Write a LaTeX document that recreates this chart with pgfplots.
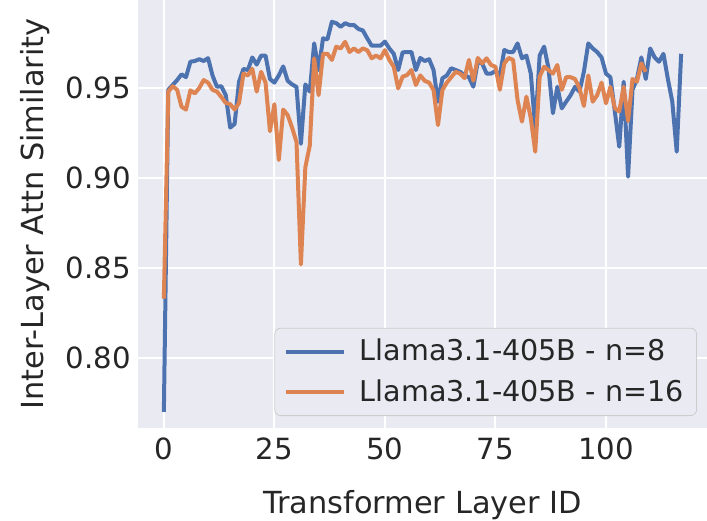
\documentclass[border=0pt]{standalone}
\usepackage{fontspec}
\setmainfont{DejaVu Sans}
\usepackage{pgfplots}
\pgfplotsset{compat=1.18}
\usepackage{pgfplotstable}
\definecolor{sbblue}{HTML}{4C72B0}
\definecolor{sborange}{HTML}{DD8452}
\definecolor{sbbg}{HTML}{EAEAF2}
\definecolor{sbedge}{HTML}{CCCCCC}
\definecolor{sbtext}{HTML}{262626}

\pgfplotstableread{
x y
0 0.770
1 0.949
2 0.9517
3 0.9544
4 0.9576
5 0.956
6 0.9646
7 0.965
8 0.966
9 0.965
10 0.9666
11 0.957
12 0.9507
13 0.951
14 0.946
15 0.928
16 0.930
17 0.9535
18 0.9606
19 0.960
20 0.967
21 0.963
22 0.968
23 0.968
24 0.955
25 0.953
26 0.957
27 0.962
28 0.954
29 0.952
30 0.9506
31 0.919
32 0.952
33 0.948
34 0.9748
35 0.960
36 0.9776
37 0.977
38 0.9868
39 0.986
40 0.984
41 0.986
42 0.985
43 0.985
44 0.9828
45 0.982
46 0.9776
47 0.9735
48 0.9735
49 0.9735
50 0.9758
51 0.972
52 0.969
53 0.960
54 0.9698
55 0.970
56 0.970
57 0.960
58 0.9667
59 0.965
60 0.966
61 0.960
62 0.9424
63 0.9554
64 0.957
65 0.961
66 0.960
67 0.959
68 0.957
69 0.956
70 0.9507
71 0.9646
72 0.9636
73 0.958
74 0.958
75 0.9594
76 0.957
77 0.9711
78 0.970
79 0.970
80 0.9748
81 0.9665
82 0.968
83 0.958
84 0.9276
85 0.968
86 0.973
87 0.961
88 0.936
89 0.9507
90 0.9387
91 0.9424
92 0.946
93 0.9507
94 0.948
95 0.959
96 0.9748
97 0.972
98 0.970
99 0.967
100 0.958
101 0.956
102 0.937
103 0.9174
104 0.9535
105 0.9007
106 0.949
107 0.955
108 0.967
109 0.955
110 0.972
111 0.967
112 0.9646
113 0.969
114 0.955
115 0.9424
116 0.9146
117 0.969
}\seriesA

\pgfplotstableread{
x y
0 0.833
1 0.948
2 0.951
3 0.949
4 0.9396
5 0.938
6 0.9487
7 0.947
8 0.950
9 0.9544
10 0.953
11 0.949
12 0.948
13 0.945
14 0.9417
15 0.941
16 0.938
17 0.9417
18 0.958
19 0.957
20 0.9607
21 0.948
22 0.959
23 0.953
24 0.926
25 0.941
26 0.910
27 0.938
28 0.935
29 0.928
30 0.920
31 0.852
32 0.906
33 0.918
34 0.9665
35 0.946
36 0.969
37 0.969
38 0.9656
39 0.973
40 0.972
41 0.9757
42 0.970
43 0.972
44 0.970
45 0.972
46 0.971
47 0.9665
48 0.968
49 0.9665
50 0.971
51 0.9656
52 0.9618
53 0.9498
54 0.9563
55 0.9572
56 0.960
57 0.9517
58 0.957
59 0.954
60 0.953
61 0.9489
62 0.9294
63 0.9489
64 0.953
65 0.956
66 0.959
67 0.958
68 0.9555
69 0.9656
70 0.954
71 0.9667
72 0.9637
73 0.9665
74 0.9628
75 0.9618
76 0.949
77 0.9637
78 0.9667
79 0.9656
80 0.9433
81 0.9313
82 0.9452
83 0.9332
84 0.9146
85 0.9563
86 0.9618
87 0.960
88 0.958
89 0.9628
90 0.949
91 0.956
92 0.956
93 0.955
94 0.950
95 0.940
96 0.957
97 0.9424
98 0.946
99 0.953
100 0.9415
101 0.9506
102 0.9387
103 0.937
104 0.9507
105 0.9317
106 0.955
107 0.9535
108 0.9637
109 0.959
}\seriesB

\begin{document}
\begin{tikzpicture}
\begin{axis}[
  scale only axis,
  width=284.5pt, height=214pt,
  xmin=-5.85, xmax=122.85,
  ymin=0.7611, ymax=0.9989,
  axis background/.style={fill=sbbg},
  axis line style={draw=none},
  grid=major,
  major grid style={white, line width=1pt},
  tick style={draw=none},
  xtick={0,25,50,75,100},
  ytick={0.80,0.85,0.90,0.95},
  /pgf/number format/assume math mode=true,
  yticklabel style={/pgf/number format/fixed, /pgf/number format/fixed zerofill, /pgf/number format/precision=2},
  ticklabel style={font=\fontsize{14.6}{17}\selectfont, text=sbtext},
  xticklabel style={yshift=-1.5pt},
  scaled y ticks=false,
  xlabel={Transformer Layer ID},
  ylabel={Inter-Layer Attn Similarity},
  label style={font=\fontsize{15.2}{18}\selectfont, text=sbtext},
  xlabel style={yshift=-8.3pt},
  ylabel style={yshift=1pt},
  legend style={
    at={(rel axis cs:0.9824,0.028)}, anchor=south east,
    draw=sbedge, fill=sbbg, rounded corners=3pt,
    font=\fontsize{14.3}{17}\selectfont, text=sbtext,
    row sep=4pt, inner xsep=4.5pt, inner ysep=3.5pt,
  },
  legend cell align=left,
  legend image code/.code={\draw[#1, line width=2pt] (0pt,0pt) -- (29pt,0pt); \path (34pt,0pt);},
]
\addplot[sbblue, line width=2pt, line join=round] table {\seriesA};
\addlegendentry{Llama3.1-405B - n=8}
\addplot[sborange, line width=2pt, line join=round] table {\seriesB};
\addlegendentry{Llama3.1-405B - n=16}
\end{axis}
\pgfresetboundingbox
\path[use as bounding box] ([xshift=-69pt,yshift=-46pt]current axis.south west) rectangle (current axis.north east);
\end{tikzpicture}
\end{document}
